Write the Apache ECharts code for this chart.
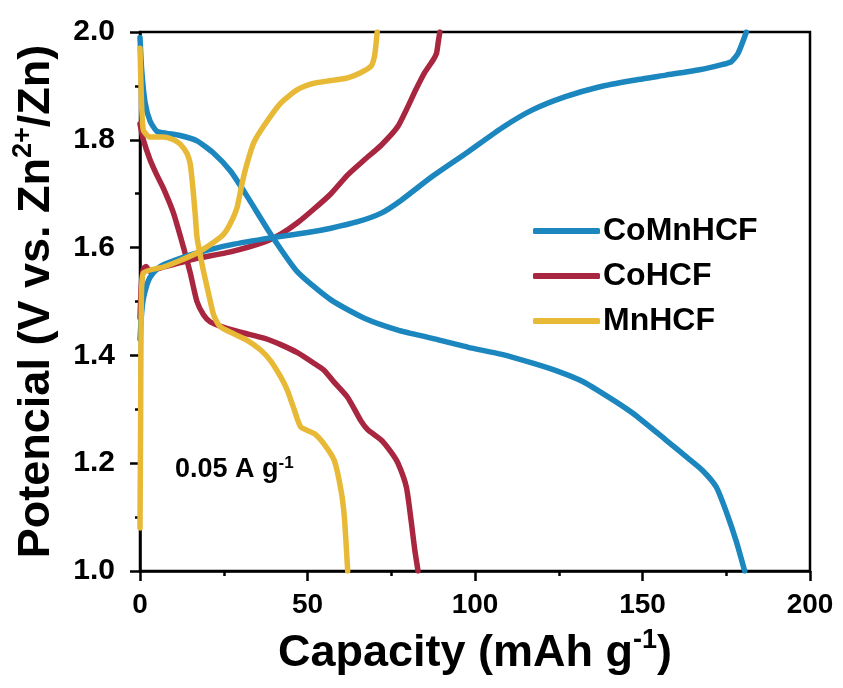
<!DOCTYPE html>
<html>
<head>
<meta charset="utf-8">
<script src="https://cdn.jsdelivr.net/npm/echarts@6/dist/echarts.min.js"></script>
<style>html,body{margin:0;padding:0;background:#fff}#c{width:843px;height:688px}</style>
</head>
<body>
<div id="c"></div>
<script>
// ---- data (capacity mAh/g, potential V) ----
const seriesNames = ['CoMnHCF', 'CoHCF', 'MnHCF'];
const xTicks = [0, 50, 100, 150, 200];
const yTicks = [1.0, 1.2, 1.4, 1.6, 1.8, 2.0];

const coMnDischarge = [[0,1.99],[0.5,1.93],[1.5,1.87],[3,1.835],[5,1.816],[8,1.812],[12,1.808],[17,1.798],[22,1.775],[27,1.742],[32,1.695],[39,1.625],[47,1.555],[57,1.503],[67,1.469],[77,1.447],[87,1.432],[98,1.415],[108,1.402],[117,1.386],[125,1.37],[132,1.352],[140,1.322],[147,1.293],[157,1.243],[164,1.207],[168,1.186],[172,1.156],[175,1.11],[178,1.055],[180.5,1.0]];
const coMnCharge = [[0,1.43],[0.5,1.48],[1,1.505],[2,1.53],[3,1.545],[5,1.56],[7,1.568],[12,1.58],[17,1.59],[27,1.605],[39,1.618],[50,1.628],[57,1.636],[65,1.648],[72,1.664],[78,1.688],[87,1.731],[98,1.778],[108,1.822],[117,1.855],[127,1.88],[137,1.898],[147,1.91],[157,1.92],[167,1.93],[174,1.94],[176.5,1.945],[178.5,1.96],[181,2.0]];
const coDischarge = [[0,1.83],[1,1.8],[3,1.763],[5,1.735],[7,1.71],[10,1.664],[13,1.6],[15,1.553],[17,1.5],[19,1.475],[21,1.462],[25,1.452],[30,1.443],[37,1.432],[42,1.42],[47,1.405],[52,1.385],[55,1.372],[58,1.35],[62,1.322],[66,1.278],[68,1.262],[72,1.243],[75,1.22],[77,1.2],[79.5,1.156],[81,1.09],[82,1.04],[83,1.0]];
const coCharge = [[0,1.47],[0.4,1.53],[1,1.56],[1.8,1.565],[3,1.556],[6,1.562],[12,1.572],[17,1.58],[27,1.592],[37,1.61],[42,1.625],[47,1.646],[52,1.672],[57,1.70],[62,1.735],[67,1.763],[72,1.79],[77,1.825],[82.5,1.895],[85,1.925],[87.5,1.948],[88.5,1.96],[89,1.98],[89.5,2.0]];
const mnDischarge = [[0,1.97],[0.4,1.88],[1,1.818],[3,1.805],[7,1.805],[10,1.8],[12,1.792],[14,1.775],[15,1.755],[15.8,1.71],[16.5,1.66],[17,1.62],[18,1.585],[19,1.555],[21,1.5],[22,1.475],[24,1.453],[28,1.44],[32,1.428],[36,1.41],[39,1.39],[42,1.36],[44,1.335],[46,1.3],[48,1.267],[52,1.255],[55,1.235],[58,1.205],[60,1.15],[61,1.1],[62,1.0]];
const mnCharge = [[0,1.08],[0.2,1.3],[0.4,1.5],[1,1.553],[7,1.564],[12,1.576],[17,1.59],[22,1.61],[25,1.625],[27,1.645],[29,1.675],[30.5,1.72],[32,1.757],[34,1.795],[37,1.826],[42,1.868],[47,1.893],[52,1.905],[57,1.91],[62,1.915],[66,1.925],[69,1.937],[70,1.955],[70.5,1.98],[70.8,2.0]];

const colors = {CoMnHCF:'#1b87be', CoHCF:'#a8263f', MnHCF:'#e7b936'};
const FONT = 'Liberation Sans, Arial, sans-serif';

function line(name, data, z) {
  return {
    name: name, type: 'line', data: data, smooth: 0.2, showSymbol: false, symbol: 'none',
    z: z, lineStyle: {width: 5.5, color: colors[name], cap: 'round', join: 'round'},
    itemStyle: {color: colors[name]}, animation: false
  };
}

const chart = echarts.init(document.getElementById('c'), null, {renderer: 'canvas'});
chart.setOption({
  backgroundColor: '#fff',
  animation: false,
  grid: {left: 140, right: 33, top: 32, bottom: 117, show: true, borderColor: '#000', borderWidth: 2.5},
  legend: {
    data: seriesNames, orient: 'vertical', left: 528, top: 209,
    icon: 'roundRect', itemWidth: 67, itemHeight: 6, itemGap: 11,
    textStyle: {fontFamily: FONT, fontWeight: 'bold', fontSize: 32, color: '#000', lineHeight: 34, padding: [0,0,0,-2]}
  },
  xAxis: {
    type: 'value', min: 0, max: 200, interval: 50,
    name: '{a|Capacity (mAh g}{s|-1}{a|)}', nameLocation: 'middle', nameGap: 56,
    nameTextStyle: {rich: {
      a: {fontFamily: FONT, fontWeight: 'bold', fontSize: 45, color: '#000'},
      s: {fontFamily: FONT, fontWeight: 'bold', fontSize: 27, color: '#000', padding: [0,0,26,0]}
    }},
    axisLine: {show: true, lineStyle: {color: '#000', width: 2.5}},
    axisTick: {show: true, inside: false, length: 10, lineStyle: {width: 2.5, color: '#000'}},
    minorTick: {show: true, splitNumber: 2, length: 5, lineStyle: {width: 2.5, color: '#000'}},
    splitLine: {show: false},
    axisLabel: {margin: 20, fontFamily: FONT, fontWeight: 'bold', fontSize: 28, color: '#000'}
  },
  yAxis: {
    type: 'value', min: 1.0, max: 2.0, interval: 0.2,
    name: '{a|Potencial (V vs. Zn}{s|2+}{a|/Zn)}', nameLocation: 'middle', nameGap: 77, nameRotate: 90,
    nameTextStyle: {rich: {
      a: {fontFamily: FONT, fontWeight: 'bold', fontSize: 45, color: '#000'},
      s: {fontFamily: FONT, fontWeight: 'bold', fontSize: 27, color: '#000', padding: [0,0,26,0]}
    }},
    axisLine: {show: true, lineStyle: {color: '#000', width: 2.5}},
    axisTick: {show: true, inside: false, length: 10, lineStyle: {width: 2.5, color: '#000'}},
    minorTick: {show: true, splitNumber: 2, length: 5, lineStyle: {width: 2.5, color: '#000'}},
    splitLine: {show: false},
    axisLabel: {margin: 25, fontFamily: FONT, fontWeight: 'bold', fontSize: 30, color: '#000',
      formatter: v => v.toFixed(1)}
  },
  graphic: [{
    type: 'text', left: 175, top: 455, z: 100,
    style: {
      text: '{a|0.05 A g}{s|-1}',
      rich: {
        a: {fontFamily: FONT, fontWeight: 'bold', fontSize: 27, fill: '#000'},
        s: {fontFamily: FONT, fontWeight: 'bold', fontSize: 17, fill: '#000', padding: [0,0,13,0]}
      }
    }
  }],
  series: [
    line('CoHCF', coDischarge, 2), line('CoHCF', coCharge, 2),
    line('CoMnHCF', coMnDischarge, 3), line('CoMnHCF', coMnCharge, 3),
    line('MnHCF', mnDischarge, 4), line('MnHCF', mnCharge, 4)
  ]
});
</script>
</body>
</html>
